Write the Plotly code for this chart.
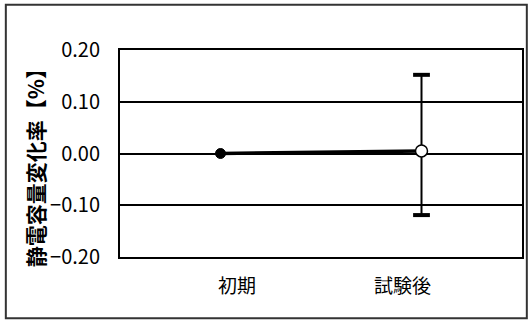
import plotly.graph_objects as go

# データ
categories = ["初期", "試験後"]
mean_values = [0.000, 0.005]
max_values = [None, 0.152]
min_values = [None, -0.119]
y_ticks = [0.20, 0.10, 0.00, -0.10, -0.20]
y_tick_labels = ["0.20", "0.10", "0.00", "−0.10", "−0.20"]
y_title = "静電容量変化率【%】"

FONT = "Noto Sans CJK JP"

fig = go.Figure()

# 平均値の推移線
fig.add_trace(go.Scatter(
    x=categories, y=mean_values, mode="lines",
    line=dict(color="black", width=3.5), showlegend=False,
))

# 試験後のエラーバー (最大・最小)
err_x = [c for c, v in zip(categories, max_values) if v is not None]
err_mean = [m for m, v in zip(mean_values, max_values) if v is not None]
err_max = [v for v in max_values if v is not None]
err_min = [v for v in min_values if v is not None]
fig.add_trace(go.Scatter(
    x=err_x, y=err_mean, mode="markers",
    marker=dict(size=0.1, color="rgba(0,0,0,0)"),
    error_y=dict(type="data", symmetric=False,
                 array=[a - m for a, m in zip(err_max, err_mean)],
                 arrayminus=[m - b for b, m in zip(err_min, err_mean)],
                 color="black", thickness=2, width=0),
    showlegend=False,
))
# キャップ
fig.add_trace(go.Scatter(
    x=err_x * 2, y=err_max + err_min, mode="markers",
    marker=dict(symbol="line-ew", size=12, line=dict(color="black", width=4)),
    showlegend=False,
))

# マーカー
fig.add_trace(go.Scatter(
    x=categories[:1], y=mean_values[:1], mode="markers",
    marker=dict(size=10, color="black", line=dict(color="black", width=1)),
    showlegend=False,
))
fig.add_trace(go.Scatter(
    x=categories[1:], y=mean_values[1:], mode="markers",
    marker=dict(size=12, color="white", line=dict(color="black", width=1.5)),
    showlegend=False,
))

# X軸ラベル (少しずらして配置)
for cat, shift in zip(categories, [16, -19]):
    fig.add_annotation(x=cat, xref="x", y=-0.208, yref="paper", text=cat,
                       showarrow=False, xshift=shift,
                       font=dict(family=FONT, size=19, color="black"))

# Y軸タイトル
fig.add_annotation(x=-0.255, xref="paper", y=0.455, yref="paper", text=y_title,
                   textangle=-90, showarrow=False,
                   font=dict(family=FONT, size=21, color="black", weight="bold"))

# 外枠
fig.add_shape(type="rect", xref="paper", yref="paper",
              x0=-0.284, x1=1.012, y0=-0.296, y1=1.218,
              line=dict(color="#333333", width=2))

fig.update_layout(
    width=530, height=320,
    margin=dict(l=120, r=6, t=50, b=63),
    paper_bgcolor="white", plot_bgcolor="white",
    showlegend=False,
)
fig.update_xaxes(
    range=[-0.5, 1.5], showticklabels=False, showgrid=False,
    showline=True, linecolor="black", linewidth=2, mirror=True,
    zeroline=False,
)
fig.update_yaxes(
    range=[-0.2, 0.2], tickvals=y_ticks, ticktext=y_tick_labels,
    ticks="outside", ticklen=14, tickcolor="rgba(0,0,0,0)",
    showgrid=True, gridcolor="black", gridwidth=1.5,
    zeroline=True, zerolinecolor="black", zerolinewidth=1.5,
    showline=True, linecolor="black", linewidth=2, mirror=True,
    tickfont=dict(family=FONT, size=20, color="black"),
)

# ページ余白をなくす
fig.write_html("out.html", config={"displayModeBar": False},
               post_script="document.body.style.margin='0';")
